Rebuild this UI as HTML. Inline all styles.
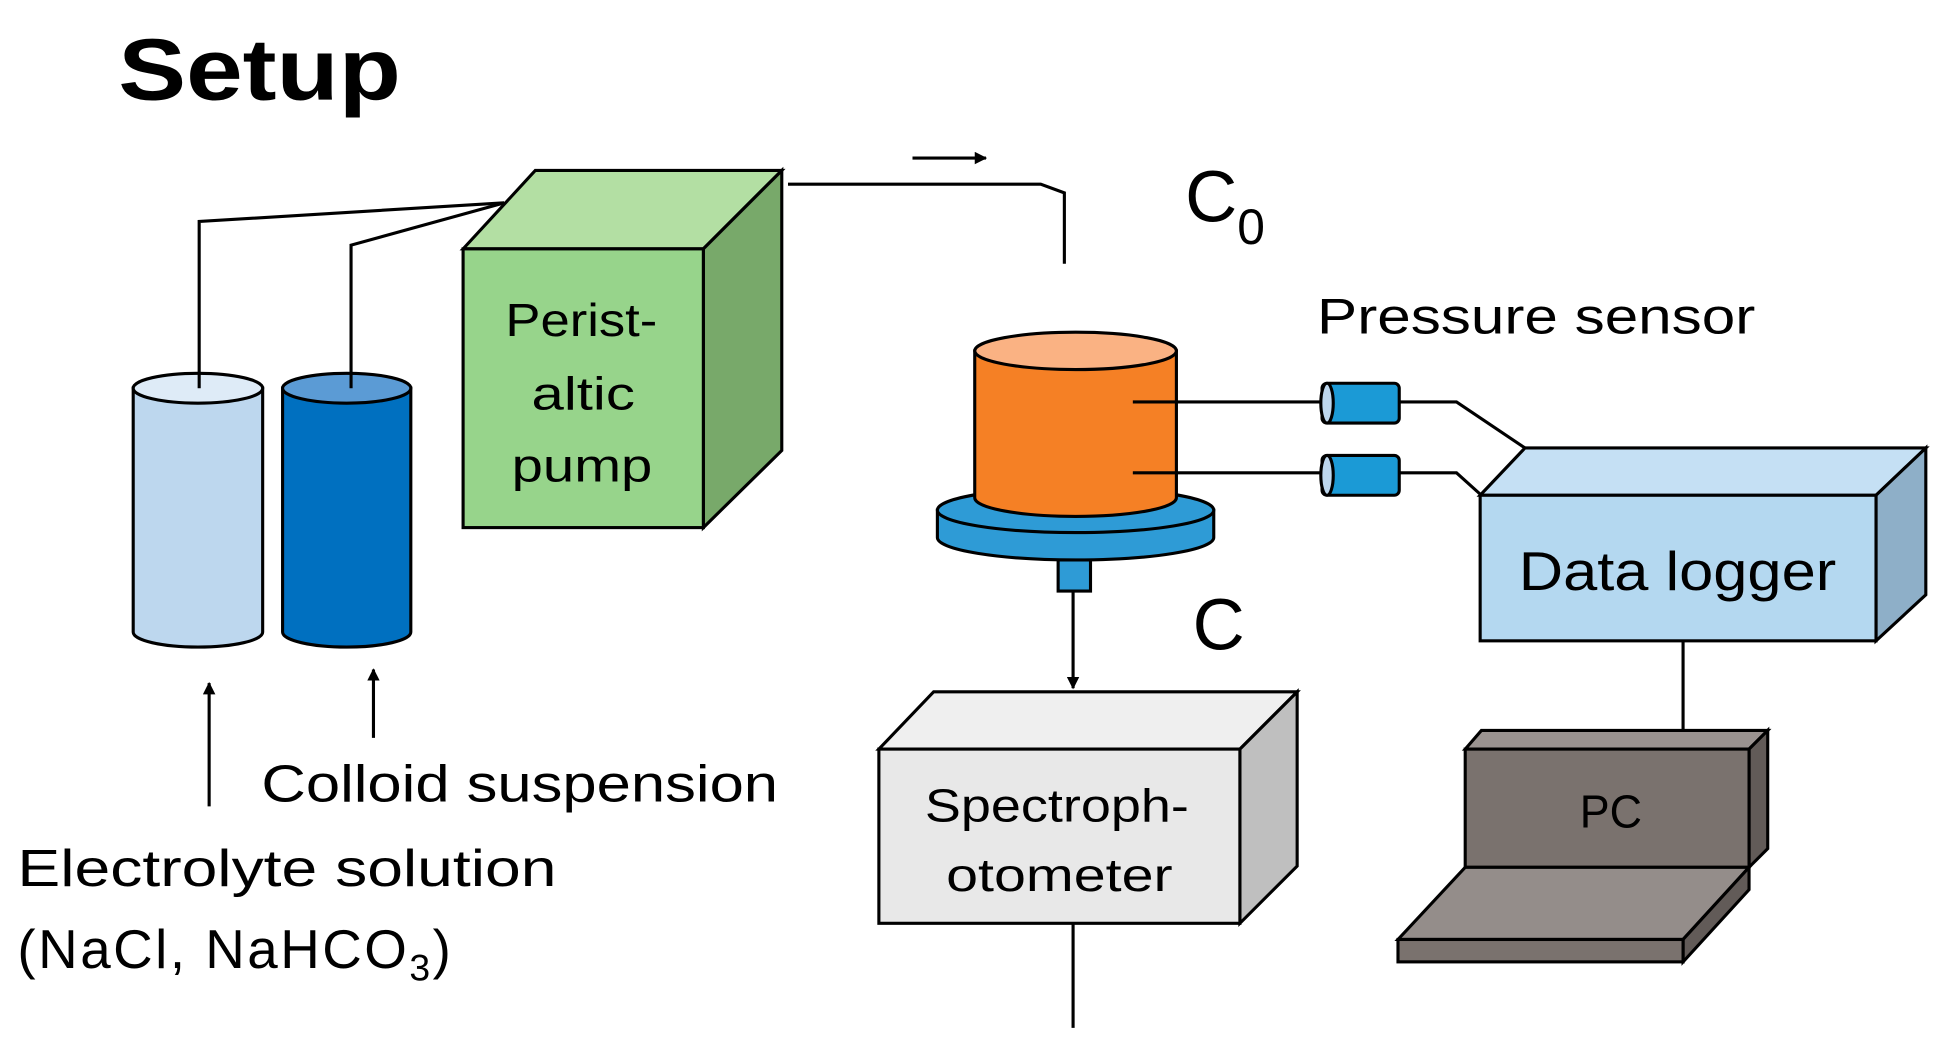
<!DOCTYPE html>
<html><head><meta charset="utf-8"><style>
html,body{margin:0;padding:0;background:#fff;width:1942px;height:1044px;overflow:hidden}
svg{display:block}
text{font-family:"Liberation Sans",sans-serif;fill:#000}
</style></head><body>
<svg width="1942" height="1044" viewBox="0 0 1560 839" preserveAspectRatio="none" xmlns="http://www.w3.org/2000/svg">
<defs><marker id="ah" markerWidth="10" markerHeight="10" refX="9" refY="5" orient="auto" markerUnits="userSpaceOnUse"><path d="M0,0 L10,5 L0,10 z" fill="#000"/></marker></defs>
<g stroke="#000" stroke-width="2.5" fill="none">
<text x="95" y="80" font-size="70" font-weight="bold" stroke="none" textLength="227" lengthAdjust="spacingAndGlyphs">Setup</text>
<polyline points="160,300 160,178 405,163"/>
<polyline points="282,300 282,197 405,163"/>
<path d="M107,312 L107,508 A52,12 0 0 0 211,508 L211,312 z" fill="#BDD7EE"/>
<ellipse cx="159" cy="312" rx="52" ry="12" fill="#DEEBF7"/>
<path d="M227,312 L227,508 A51.5,12 0 0 0 330,508 L330,312 z" fill="#0070C0"/>
<ellipse cx="278.5" cy="312" rx="51.5" ry="12" fill="#5B9BD5"/>
<line x1="160" y1="300" x2="160" y2="312"/><line x1="282" y1="300" x2="282" y2="312"/>
<polygon points="372,200 430,137 628,137 565,200" fill="#B3DFA3"/>
<polygon points="565,200 628,137 628,362 565,424" fill="#78A96A"/>
<rect x="372" y="200" width="193" height="224" fill="#97D48B"/>
<g stroke="none" font-size="37">
<text x="406" y="270" textLength="122" lengthAdjust="spacingAndGlyphs">Perist-</text>
<text x="427" y="329" textLength="83" lengthAdjust="spacingAndGlyphs">altic</text>
<text x="411" y="387" textLength="113" lengthAdjust="spacingAndGlyphs">pump</text></g>
<polyline points="633,148 836,148 855,155 855,212"/>
<line x1="733" y1="127" x2="792" y2="127" marker-end="url(#ah)"/>
<text x="952" y="178" font-size="58" stroke="none">C<tspan font-size="40" dy="18">0</tspan></text>
<rect x="850" y="450" width="26" height="25" fill="#2E9BD6"/>
<path d="M753,410 L753,432 A111,18 0 0 0 975,432 L975,410 z" fill="#2E9BD6"/>
<ellipse cx="864" cy="410" rx="111" ry="18" fill="#2E9BD6"/>
<path d="M783,282 L783,400 A81,15 0 0 0 945,400 L945,282 z" fill="#F58025"/>
<ellipse cx="864" cy="282" rx="81" ry="15" fill="#FAB283"/>
<line x1="862" y1="475" x2="862" y2="553" marker-end="url(#ah)"/>
<text x="958" y="522" font-size="58" stroke="none">C</text>
<polygon points="706,602 750,556 1042,556 996,602" fill="#EFEFEF"/>
<polygon points="996,602 1042,556 1042,696 996,742" fill="#BFBFBF"/>
<rect x="706" y="602" width="290" height="140" fill="#E8E8E8"/>
<g stroke="none" font-size="37">
<text x="743" y="660" textLength="212" lengthAdjust="spacingAndGlyphs">Spectroph-</text>
<text x="760" y="716" textLength="182" lengthAdjust="spacingAndGlyphs">otometer</text></g>
<line x1="862" y1="742" x2="862" y2="826"/>
<text x="1058" y="268" font-size="40" stroke="none" textLength="352" lengthAdjust="spacingAndGlyphs">Pressure sensor</text>
<line x1="910" y1="323" x2="1062" y2="323"/><line x1="910" y1="380" x2="1062" y2="380"/>
<rect x="1062" y="308" width="62" height="32" rx="4" fill="#1B9AD6"/>
<ellipse cx="1066" cy="324" rx="5" ry="16" fill="#BDD7EE"/>
<rect x="1062" y="366" width="62" height="32" rx="4" fill="#1B9AD6"/>
<ellipse cx="1066" cy="382" rx="5" ry="16" fill="#BDD7EE"/>
<polyline points="1124,323 1170,323 1225,360"/>
<polyline points="1124,380 1170,380 1190,398"/>
<polygon points="1189,398 1225,360 1547,360 1507,398" fill="#C5E0F4"/>
<polygon points="1507,398 1547,360 1547,478 1507,515" fill="#8EAFC8"/>
<rect x="1189" y="398" width="318" height="117" fill="#B4D8F0"/>
<text x="1220" y="474" font-size="44" stroke="none" textLength="255" lengthAdjust="spacingAndGlyphs">Data logger</text>
<line x1="1352" y1="515" x2="1352" y2="587"/>
<polygon points="1177,602 1190,587 1420,587 1405,602" fill="#9A9390"/>
<polygon points="1405,602 1420,587 1420,682 1405,697" fill="#625B58"/>
<rect x="1177" y="602" width="228" height="95" fill="#7A726E"/>
<text x="1269" y="665" font-size="37" stroke="none" textLength="50" lengthAdjust="spacingAndGlyphs">PC</text>
<polygon points="1123,755 1177,697 1405,697 1352,755" fill="#948D8A"/>
<polygon points="1352,755 1405,697 1405,715 1352,773" fill="#625B58"/>
<rect x="1123" y="755" width="229" height="18" fill="#7A726E"/>
<line x1="168" y1="648" x2="168" y2="549" marker-end="url(#ah)"/>
<line x1="300" y1="593" x2="300" y2="538" marker-end="url(#ah)"/>
<g stroke="none" font-size="42">
<text x="210" y="644" textLength="415" lengthAdjust="spacingAndGlyphs">Colloid suspension</text>
<text x="14" y="712" textLength="433" lengthAdjust="spacingAndGlyphs">Electrolyte solution</text>
<text x="14" y="778" font-size="44" letter-spacing="2">(NaCl, NaHCO<tspan font-size="30" dy="10">3</tspan><tspan dy="-10">)</tspan></text>
</g>
</g>
</svg>
</body></html>
